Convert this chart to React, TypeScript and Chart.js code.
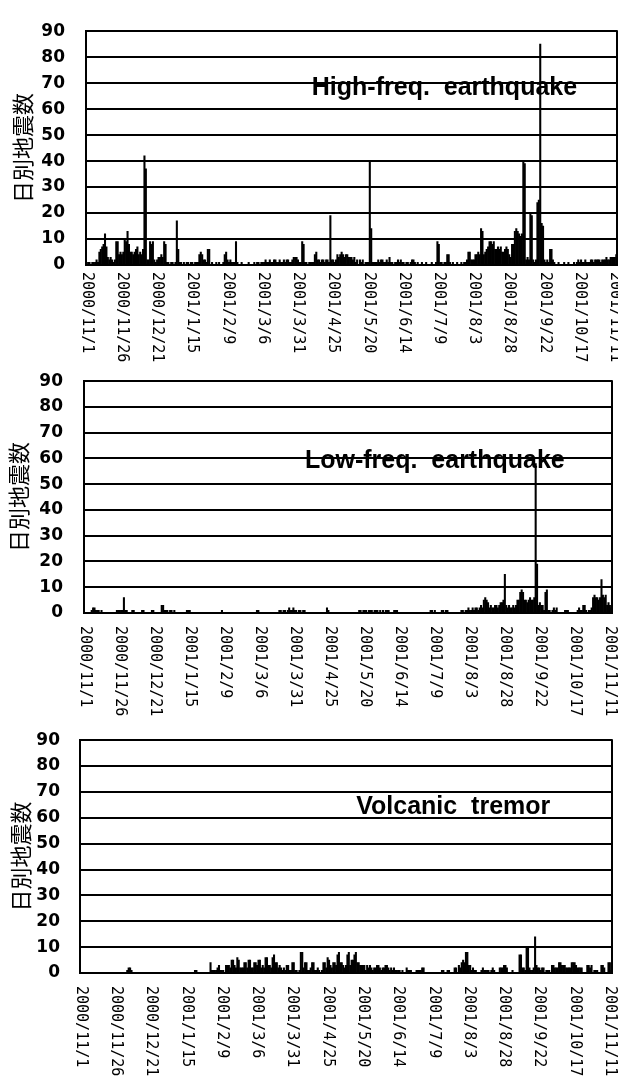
import React, { useEffect, useRef } from 'react';
import { Chart, registerables } from 'chart.js';

Chart.register(...registerables);

// ---- categories: one bar per day, 2000/11/1 .. 2001/11/12 ----
const DAY_COUNT = 377;
const days: string[] = [];
for (let i = 0; i < DAY_COUNT; i++) {
  const d = new Date(2000, 10, 1 + i);
  days.push(`${d.getFullYear()}/${d.getMonth() + 1}/${d.getDate()}`);
}

// tick labels, one every 25 days
const TICK_STEP = 25;
const tickLabels = [
  '2000/11/1', '2000/11/26', '2000/12/21', '2001/1/15', '2001/2/9', '2001/3/6',
  '2001/3/31', '2001/4/25', '2001/5/20', '2001/6/14', '2001/7/9', '2001/8/3',
  '2001/8/28', '2001/9/22', '2001/10/17', '2001/11/11',
];

const yTitle = '日別地震数';
const Y_MAX = 90;
const Y_STEP = 10;

// ---- daily counts (rows of 25 days) ----
const highFreq = [
  0,1,1,0,1,1,1,2,1,5,6,7,8,12,7,3,2,3,2,1,2,9,9,4,5,
  4,5,10,9,13,8,5,5,4,5,6,7,4,5,4,6,42,37,2,2,9,8,9,2,1,
  2,3,3,4,3,9,8,1,1,0,1,1,0,1,17,6,1,1,0,1,0,1,1,0,1,
  1,0,1,1,1,4,5,4,2,2,1,6,6,0,1,0,0,1,0,1,0,0,1,4,5,
  2,1,2,1,1,1,9,1,0,0,1,0,0,0,0,1,0,0,0,1,0,1,1,0,1,
  1,1,2,1,1,2,1,1,2,2,1,1,2,1,1,2,1,2,2,1,1,2,3,3,3,
  2,1,1,9,8,1,1,0,1,1,1,1,4,5,2,2,1,2,2,1,2,2,1,19,2,
  2,1,2,4,3,4,5,4,3,4,4,3,3,3,2,3,1,2,0,2,1,2,0,1,1,
  1,40,14,1,1,1,1,2,1,2,2,1,1,2,1,3,1,1,0,1,1,2,1,2,1,
  1,0,1,1,0,1,2,2,1,0,1,0,0,1,0,0,1,0,0,0,1,0,0,1,9,
  8,1,1,0,1,1,4,4,1,0,1,0,0,1,0,0,1,0,1,1,2,5,5,2,2,
  2,4,4,5,4,14,13,4,5,6,7,9,9,8,9,6,6,7,6,7,5,5,6,7,6,
  4,3,8,8,13,14,13,12,11,12,40,39,2,3,2,20,19,2,1,2,24,25,85,16,15,
  2,1,2,1,6,6,2,1,0,0,1,0,0,0,1,0,0,1,0,0,0,1,0,1,2,
  1,2,1,1,2,1,1,1,2,2,1,2,2,2,2,1,2,2,2,3,2,2,3,3,3,
  3,4,
];

const lowFreq = [
  0,0,0,0,0,1,2,2,1,1,1,0,1,0,0,0,0,0,0,0,0,0,0,1,1,
  1,1,1,6,1,1,0,0,0,1,1,0,0,0,0,0,1,1,0,0,0,0,0,1,1,
  0,0,0,0,0,3,3,1,1,1,0,1,1,0,1,0,0,0,0,0,0,0,0,1,1,
  1,0,0,0,0,0,0,0,0,0,0,0,0,0,0,0,0,0,0,0,0,0,0,1,0,
  0,0,0,0,0,0,0,0,0,0,0,0,0,0,0,0,0,0,0,0,0,0,0,1,1,
  0,0,0,0,0,0,0,0,0,0,0,0,0,0,1,1,0,1,1,0,1,2,1,1,2,
  1,1,0,1,1,0,1,1,0,0,0,0,0,0,0,0,0,0,0,0,0,0,0,2,1,
  0,0,0,0,0,0,0,0,0,0,0,0,0,0,0,0,0,0,0,0,0,1,1,0,1,
  1,1,0,1,1,1,0,1,1,1,0,1,0,1,0,1,1,1,0,0,0,1,1,1,0,
  0,0,0,0,0,0,0,0,0,0,0,0,0,0,0,0,0,0,0,0,0,0,1,1,0,
  1,0,0,0,0,1,1,0,1,1,0,0,0,0,0,0,0,0,0,1,1,0,1,1,2,
  1,1,2,1,2,2,1,2,3,2,5,6,5,4,2,3,2,2,3,3,2,3,4,4,5,
  15,3,2,3,2,2,3,2,3,5,5,8,9,8,5,5,4,5,6,5,5,6,58,19,3,
  4,3,3,1,8,9,1,1,0,1,2,1,2,0,0,0,0,0,1,1,1,0,0,0,0,
  0,0,1,2,1,1,3,3,1,0,1,1,2,6,7,6,6,5,6,13,7,6,7,3,4,
  3,2,
];

const tremor = [
  0,0,0,0,0,0,0,0,0,0,0,0,0,0,0,0,0,0,0,0,0,0,0,0,0,
  0,0,0,0,0,0,0,0,1,2,2,1,0,0,0,0,0,0,0,0,0,0,0,0,0,
  0,0,0,0,0,0,0,0,0,0,0,0,0,0,0,0,0,0,0,0,0,0,0,0,0,
  0,0,0,0,0,0,1,1,0,0,0,0,0,0,0,0,0,4,1,1,1,1,2,3,1,
  1,1,0,3,3,3,2,5,5,3,2,6,5,2,2,2,4,4,2,5,5,2,2,4,4,
  3,5,5,2,3,2,6,6,3,3,2,6,7,4,4,2,3,2,1,2,1,3,3,1,1,
  4,4,1,1,0,1,8,8,2,4,4,1,1,2,4,4,1,1,2,1,0,1,4,4,2,
  6,5,3,2,4,4,3,7,8,4,4,3,2,3,7,8,3,5,5,7,8,4,4,3,3,
  3,3,1,3,2,3,2,1,2,2,3,3,2,1,2,2,3,3,2,1,2,1,2,1,1,
  1,1,0,1,0,0,2,1,1,1,0,0,0,1,1,1,1,2,2,0,0,0,0,0,0,
  0,0,0,0,0,0,1,1,0,0,1,1,0,0,0,2,2,0,3,2,4,5,4,8,8,
  3,3,1,2,1,1,0,0,0,1,2,1,1,1,1,0,1,2,1,0,0,0,2,2,2,
  3,3,2,0,0,0,1,0,0,0,0,7,7,2,2,1,10,10,2,1,1,2,14,3,2,
  2,1,2,2,0,1,1,1,0,3,3,2,2,2,4,4,3,3,3,2,2,2,2,4,4,
  4,3,2,2,2,2,0,0,0,3,3,2,3,0,1,1,1,0,0,3,3,2,0,0,4,
  4,1,
];

type Spec = {
  values: number[];
  note: string;
  noteX: number; // category index of note centre
  noteY: number; // value of note centre
  top: number;
  height: number;
  padTop: number;
  padRight: number;
  yWidth: number;
  yPad: number;
  titlePad: number;
  xHeight: number;
  labelGap: number;
};

const specs: Spec[] = [
  { values: highFreq, note: 'High-freq.  earthquake', noteX: 254, noteY: 68,
    top: 0, height: 370, padTop: 22, padRight: 1, yWidth: 86, yPad: 21, titlePad: 9, xHeight: 105, labelGap: 7 },
  { values: lowFreq, note: 'Low-freq.  earthquake', noteX: 250, noteY: 59,
    top: 350, height: 370, padTop: 23, padRight: 6, yWidth: 84, yPad: 21, titlePad: 5, xHeight: 107, labelGap: 13 },
  { values: tremor, note: 'Volcanic  tremor', noteX: 264, noteY: 64,
    top: 710, height: 375, padTop: 23, padRight: 6, yWidth: 80, yPad: 20, titlePad: 7, xHeight: 112, labelGap: 13 },
];

function makeConfig(spec: Spec): any {
  const overlay = {
    id: 'overlay',
    afterDraw(chart: any) {
      const { ctx, chartArea } = chart;
      const xs = chart.scales.x;
      const ys = chart.scales.y;
      ctx.save();
      // right frame line
      ctx.strokeStyle = '#000';
      ctx.lineWidth = 2;
      ctx.beginPath();
      ctx.moveTo(chartArea.right, chartArea.top - 1);
      ctx.lineTo(chartArea.right, chartArea.bottom + 1);
      ctx.stroke();
      // rotated date labels (reading top to bottom)
      ctx.fillStyle = '#000';
      ctx.font = '15px "DejaVu Sans Mono"';
      ctx.textAlign = 'left';
      ctx.textBaseline = 'middle';
      tickLabels.forEach((t, k) => {
        const px = xs.getPixelForValue(k * TICK_STEP);
        ctx.save();
        ctx.translate(px, chartArea.bottom + spec.labelGap);
        ctx.rotate(Math.PI / 2);
        ctx.fillText(t, 0, 0);
        ctx.restore();
      });
      // series note
      ctx.font = 'bold 25px "Liberation Sans", Arial, sans-serif';
      ctx.textAlign = 'center';
      ctx.textBaseline = 'middle';
      ctx.fillText(spec.note, xs.getPixelForValue(spec.noteX), ys.getPixelForValue(spec.noteY));
      ctx.restore();
    },
  };

  return {
    type: 'bar',
    data: {
      labels: days,
      datasets: [
        {
          data: spec.values,
          backgroundColor: '#000',
          borderWidth: 0,
          barPercentage: 1,
          categoryPercentage: 1,
        },
      ],
    },
    options: {
      animation: false,
      responsive: false,
      maintainAspectRatio: false,
      layout: { padding: { top: spec.padTop, right: spec.padRight, left: 0, bottom: 0 } },
      plugins: { legend: { display: false }, tooltip: { enabled: false } },
      scales: {
        x: {
          grid: { display: false, drawTicks: false },
          border: { display: true, color: '#000', width: 2 },
          ticks: { display: false },
          afterFit: (s: any) => {
            s.height = spec.xHeight;
          },
        },
        y: {
          min: 0,
          max: Y_MAX,
          ticks: {
            stepSize: Y_STEP,
            color: '#000',
            padding: spec.yPad,
            font: { family: '"DejaVu Sans"', weight: 'bold', size: 17 },
          },
          grid: { color: '#000', lineWidth: 2, drawTicks: false },
          border: { display: true, color: '#000', width: 2 },
          title: {
            display: true,
            text: yTitle,
            color: '#000',
            font: { family: '"Noto Sans CJK JP"', size: 22 },
            padding: { top: spec.titlePad, bottom: 0 },
          },
          afterFit: (s: any) => {
            s.width = spec.yWidth;
          },
        },
      },
    },
    plugins: [overlay],
  };
}

function QuakeChart({ spec }: { spec: Spec }) {
  const ref = useRef<HTMLCanvasElement | null>(null);
  useEffect(() => {
    if (!ref.current) return;
    const chart = new Chart(ref.current, makeConfig(spec));
    return () => chart.destroy();
  }, [spec]);
  return (
    <canvas
      ref={ref}
      width={618}
      height={spec.height}
      style={{ position: 'absolute', left: 0, top: spec.top, width: 618, height: spec.height }}
    />
  );
}

export default function App() {
  return (
    <div
      style={{
        position: 'absolute',
        left: 0,
        top: 0,
        width: 618,
        height: 1085,
        background: '#fff',
        overflow: 'hidden',
      }}
    >
      {specs.map((s, i) => (
        <QuakeChart key={i} spec={s} />
      ))}
    </div>
  );
}
